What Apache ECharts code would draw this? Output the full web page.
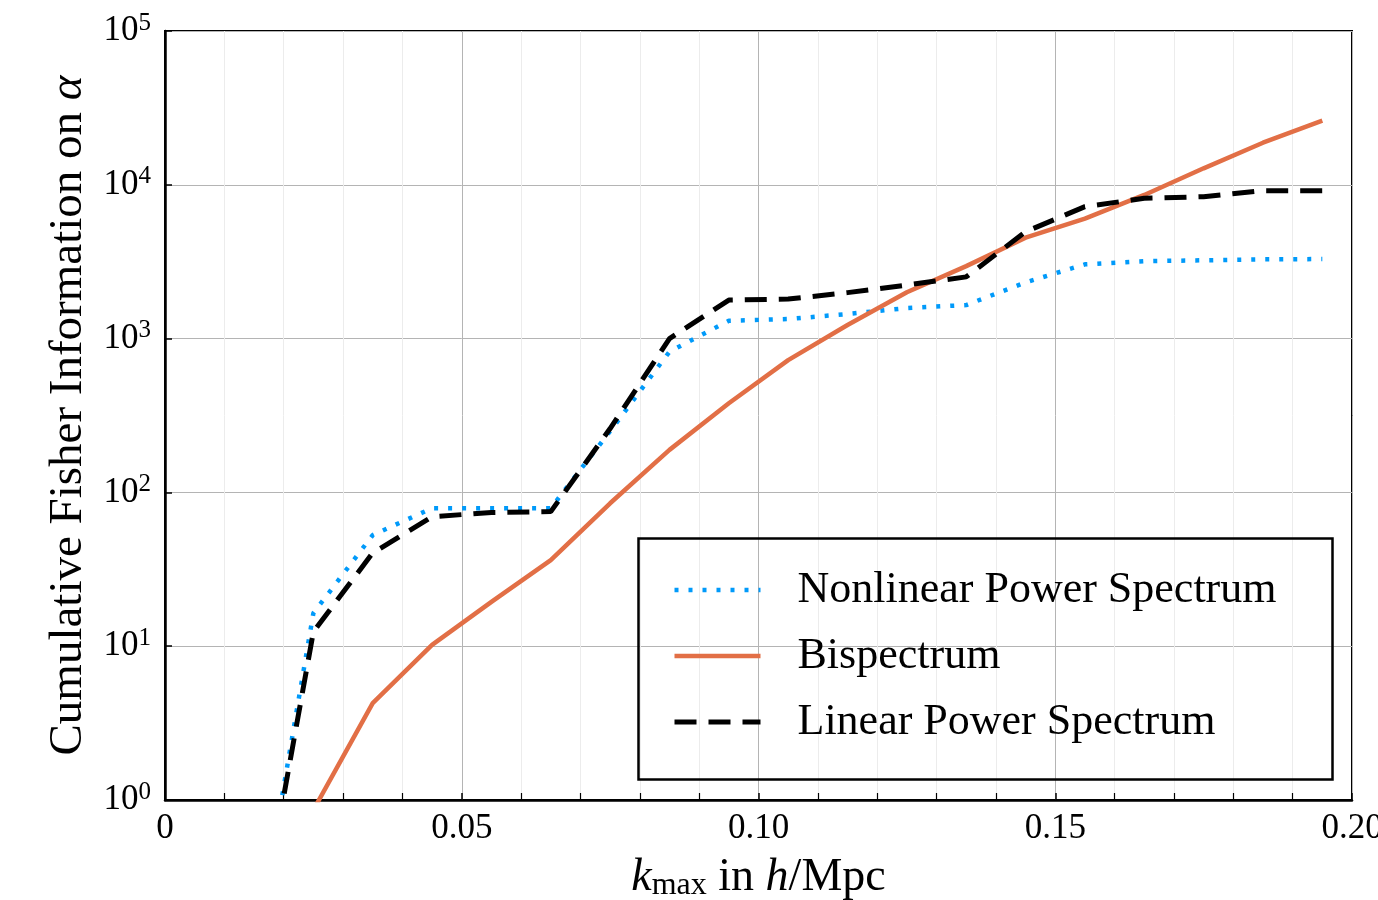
<!DOCTYPE html>
<html>
<head>
<meta charset="utf-8">
<script src="https://cdn.jsdelivr.net/npm/echarts@6/dist/echarts.min.js"></script>
<style>html,body{margin:0;padding:0;background:#fff;overflow:hidden}#c{width:1378px;height:900px}</style>
</head>
<body>
<div id="c"></div>
<script>
const kmax = [0.015, 0.025, 0.035, 0.045, 0.055, 0.065, 0.075, 0.085, 0.095, 0.105, 0.115, 0.125, 0.135, 0.145, 0.155, 0.165, 0.175, 0.185, 0.195];
const nonlinearPS = [0.09, 16.4, 52.8, 79, 79, 79, 250, 822, 1307, 1340, 1445, 1580, 1653, 2320, 3040, 3185, 3230, 3275, 3290];
const bispectrum  = [0.08, 0.86, 4.27, 10.2, 19.4, 36.3, 85, 189, 380, 725, 1225, 2000, 2960, 4530, 6030, 8590, 12800, 18780, 26100];
const linearPS    = [0.09, 12.4, 40.4, 69.5, 74, 75, 260, 1000, 1780, 1808, 1990, 2230, 2520, 4950, 7210, 8170, 8370, 9160, 9160];
const xTicks = [0, 0.05, 0.10, 0.15, 0.20];
const yTicks = [1, 10, 100, 1000, 10000, 100000];
const seriesNames = ['Nonlinear Power Spectrum', 'Bispectrum', 'Linear Power Spectrum'];

const FONT = '"Liberation Serif", "DejaVu Serif", serif';
const pair = (ys) => kmax.map((k, i) => [k, ys[i]]);
const styles = [
  {color: '#009AFA', width: 4.5, type: [4, 10], cap: 'butt'},
  {color: '#E26F46', width: 4.5, type: 'solid', cap: 'butt'},
  {color: '#000000', width: 5, type: [22, 12], cap: 'butt'}
];

const chart = echarts.init(document.getElementById('c'), null, {renderer: 'canvas', width: 1378, height: 900});
chart.setOption({
  animation: false,
  backgroundColor: '#fff',
  grid: {left: 165, right: 26, top: 31, bottom: 100, containLabel: false, outerBoundsMode: 'none',
         show: true, borderColor: '#000', borderWidth: 2, backgroundColor: 'transparent'},
  xAxis: {
    type: 'value', min: xTicks[0], max: xTicks[xTicks.length - 1], interval: 0.05,
    axisLine: {show: true, onZero: false, lineStyle: {color: '#000', width: 2.5}},
    axisTick: {show: true, inside: true, length: 7, lineStyle: {color: '#000', width: 1.5}},
    minorTick: {show: true, splitNumber: 5, length: 7, lineStyle: {color: '#000', width: 1.2}},
    splitLine: {show: true, lineStyle: {color: '#b4b4b4', width: 1}},
    minorSplitLine: {show: true, lineStyle: {color: '#ececec', width: 1}},
    axisLabel: {
      fontFamily: FONT, fontSize: 35, color: '#000', margin: 11, hideOverlap: false,
      formatter: v => (Math.abs(v) < 1e-9 ? '0' : v.toFixed(2))
    },
    name: '{i|k}{sub|max} in {i|h}/Mpc',
    nameLocation: 'middle', nameGap: 54,
    nameTextStyle: {
      fontFamily: FONT, fontSize: 46, color: '#000',
      rich: {
        i: {fontFamily: FONT, fontSize: 46, fontStyle: 'italic', color: '#000'},
        sub: {fontFamily: FONT, fontSize: 32, color: '#000', verticalAlign: 'bottom', padding: [16, 0, 0, 0]}
      }
    }
  },
  yAxis: {
    type: 'log', logBase: 10, min: yTicks[0], max: yTicks[yTicks.length - 1],
    axisLine: {show: true, lineStyle: {color: '#000', width: 2.5}},
    axisTick: {show: true, inside: true, length: 7, lineStyle: {color: '#000', width: 1.5}},
    minorTick: {show: false},
    splitLine: {show: true, lineStyle: {color: '#b4b4b4', width: 1}},
    axisLabel: {
      fontFamily: FONT, fontSize: 35, color: '#000', margin: 14,
      formatter: v => '{b|10}{s|' + Math.round(Math.log10(v)) + '}',
      rich: {
        b: {fontFamily: FONT, fontSize: 35, color: '#000'},
        s: {fontFamily: FONT, fontSize: 25, color: '#000', verticalAlign: 'top', padding: [0, 0, 16, 0]}
      }
    },
    name: 'Cumulative Fisher Information on {i|α}',
    nameLocation: 'middle', nameGap: 72, nameRotate: 90,
    nameTextStyle: {
      fontFamily: FONT, fontSize: 47, color: '#000',
      rich: {i: {fontFamily: FONT, fontSize: 47, fontStyle: 'italic', color: '#000'}}
    }
  },
  legend: {
    show: true, orient: 'vertical', left: 672, top: 568,
    data: seriesNames.map((n, i) => ({name: n, lineStyle: styles[i], itemStyle: {color: 'transparent', borderWidth: 0, opacity: 0}})),
    itemWidth: 86, itemHeight: 20, itemGap: 22,
    padding: 0,
    itemStyle: {color: 'transparent', borderWidth: 0, opacity: 0},
    textStyle: {fontFamily: FONT, fontSize: 44, color: '#000', lineHeight: 40, padding: [0, 0, 0, 32]},
    selectedMode: false
  },
  graphic: [{
    type: 'rect', left: 636, top: 536, z: 100,
    shape: {width: 694, height: 241},
    style: {fill: 'none', stroke: '#000', lineWidth: 2.5}
  }],
  series: seriesNames.map((n, i) => ({
    name: n, type: 'line', data: pair([nonlinearPS, bispectrum, linearPS][i]),
    showSymbol: false, symbol: 'none', clip: true, z: 3 + i,
    lineStyle: styles[i], itemStyle: {color: styles[i].color}
  }))
});
</script>
</body>
</html>
